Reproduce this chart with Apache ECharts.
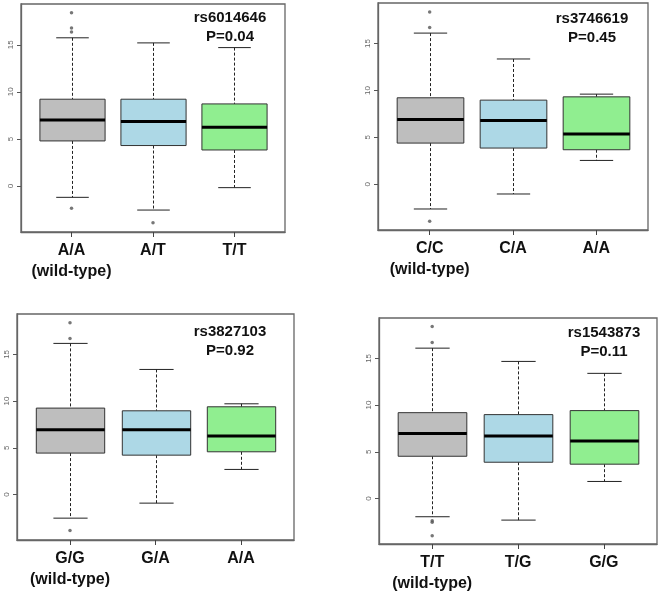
<!DOCTYPE html>
<html>
<head>
<meta charset="utf-8">
<title>boxplots</title>
<script src="https://cdn.jsdelivr.net/npm/echarts@6/dist/echarts.min.js"></script>
<style>
  html, body { margin: 0; padding: 0; background: #fff; }
  #main { width: 661px; height: 595px; }
</style>
</head>
<body>
<div id="main"></div>
<script>
// box stats: [lower whisker, Q1, median, Q3, upper whisker]
var cats1 = ['A/A\n(wild-type)', 'A/T', 'T/T'];
var box1 = [[-1.2, 4.79, 7.02, 9.22, 15.74], [-2.55, 4.3, 6.85, 9.22, 15.2], [-0.17, 3.83, 6.24, 8.72, 14.7]];
var out1 = [[1, 18.4], [1, 16.78], [1, 16.35], [1, -2.37], [2, -3.9]];
var note1 = 'rs6014646\nP=0.04';

var cats2 = ['C/C\n(wild-type)', 'C/A', 'A/A'];
var box2 = [[-2.64, 4.39, 6.9, 9.22, 16.12], [-1.04, 3.86, 6.79, 8.97, 13.36], [2.54, 3.68, 5.36, 9.32, 9.61]];
var out2 = [[1, 18.37], [1, 16.72], [1, -3.96]];
var note2 = 'rs3746619\nP=0.45';

var cats3 = ['G/G\n(wild-type)', 'G/A', 'A/A'];
var box3 = [[-2.54, 4.43, 6.93, 9.25, 16.18], [-0.93, 4.21, 6.93, 8.96, 13.39], [2.68, 4.57, 6.25, 9.39, 9.71]];
var out3 = [[1, 18.39], [1, 16.71], [1, -3.86]];
var note3 = 'rs3827103\nP=0.92';

var cats4 = ['T/T\n(wild-type)', 'T/G', 'G/G'];
var box4 = [[-1.96, 4.52, 6.95, 9.19, 16.1], [-2.32, 3.88, 6.7, 8.98, 14.68], [1.82, 3.67, 6.16, 9.41, 13.4]];
var out4 = [[1, 18.42], [1, 16.71], [1, -2.39], [1, -2.56], [1, -3.99]];
var note4 = 'rs1543873\nP=0.11';

var yTicks = [0, 5, 10, 15];
var fills = ['#BEBEBE', '#ADD8E6', '#90EE90'];

var allCats = [cats1, cats2, cats3, cats4];
var allBox = [box1, box2, box3, box4];
var allOut = [out1, out2, out3, out4];
var allNotes = [note1, note2, note3, note4];

// panel frames (left, top, width, height) and note centers
var frames = [
  [21, 4, 264, 228],
  [378, 3, 270, 227],
  [17, 314, 277, 226],
  [379, 318, 278, 226]
];
var notePos = [[230, 8], [592, 9], [230, 322], [604, 323]];

function renderBox(params, api) {
  var x = api.value(0);
  var lo = api.value(1), q1 = api.value(2), med = api.value(3), q3 = api.value(4), hi = api.value(5);
  var w = api.size([0.8, 0])[0];
  var c = Math.round(api.coord([x, 0])[0]) + 0.5;
  var y = function (v) { return api.coord([x, v])[1]; };
  var half = w / 2, cap = w / 4;
  var dash = { stroke: '#222', lineWidth: 1, lineDash: [3, 2] };
  var solid = { stroke: '#222', lineWidth: 1 };
  return {
    type: 'group',
    children: [
      { type: 'line', shape: { x1: c, y1: y(hi), x2: c, y2: y(q3) }, style: dash },
      { type: 'line', shape: { x1: c, y1: y(q1), x2: c, y2: y(lo) }, style: dash },
      { type: 'line', shape: { x1: c - cap, y1: y(hi), x2: c + cap, y2: y(hi) }, style: solid },
      { type: 'line', shape: { x1: c - cap, y1: y(lo), x2: c + cap, y2: y(lo) }, style: solid },
      { type: 'rect', shape: { x: c - half, y: y(q3), width: w, height: y(q1) - y(q3) },
        style: { fill: fills[params.dataIndex], stroke: '#333', lineWidth: 1 } },
      { type: 'line', shape: { x1: c - half, y1: y(med), x2: c + half, y2: y(med) },
        style: { stroke: '#000', lineWidth: 3 } }
    ]
  };
}

var grid = [], xAxis = [], yAxis = [], series = [], graphic = [];
frames.forEach(function (f, i) {
  var cats = allCats[i];
  grid.push({ left: f[0], top: f[1], width: f[2], height: f[3], show: true,
    borderColor: '#666', borderWidth: 1.3, containLabel: false });
  xAxis.push({
    gridIndex: i, type: 'value', min: 0.38, max: 3.62,
    axisLine: { show: true, onZero: false, lineStyle: { color: '#666', width: 1.3 } },
    axisTick: { show: true, length: 5, customValues: [1, 2, 3], lineStyle: { color: '#444' } },
    axisLabel: {
      customValues: [1, 2, 3], margin: 8, color: '#111',
      fontFamily: 'Liberation Sans', fontWeight: 'bold', fontSize: 16, lineHeight: 21,
      formatter: function (v) { return cats[Math.round(v) - 1]; }
    },
    splitLine: { show: false }
  });
  yAxis.push({
    gridIndex: i, type: 'value', min: -4.88, max: 19.33,
    axisLine: { show: true, onZero: false, lineStyle: { color: '#666', width: 1.3 } },
    axisTick: { show: true, length: 4, customValues: yTicks, lineStyle: { color: '#555' } },
    axisLabel: { customValues: yTicks, rotate: 90, fontSize: 8, color: '#666', margin: 6,
      fontFamily: 'Liberation Sans' },
    splitLine: { show: false }
  });
  series.push({
    type: 'custom', xAxisIndex: i, yAxisIndex: i,
    renderItem: renderBox,
    encode: { x: 0, y: [1, 2, 3, 4, 5] },
    data: allBox[i].map(function (b, k) { return [k + 1].concat(b); })
  });
  series.push({
    type: 'scatter', xAxisIndex: i, yAxisIndex: i,
    symbol: 'circle', symbolSize: 3.5,
    itemStyle: { color: '#555' },
    data: allOut[i]
  });
  graphic.push({
    type: 'text', x: notePos[i][0], y: notePos[i][1],
    style: {
      text: allNotes[i], fill: '#111', font: 'bold 15px "Liberation Sans"',
      align: 'center', verticalAlign: 'top', lineHeight: 19
    }
  });
});

var chart = echarts.init(document.getElementById('main'));
chart.setOption({
  backgroundColor: '#fff',
  animation: false,
  grid: grid,
  xAxis: xAxis,
  yAxis: yAxis,
  series: series,
  graphic: graphic
});
</script>
</body>
</html>
